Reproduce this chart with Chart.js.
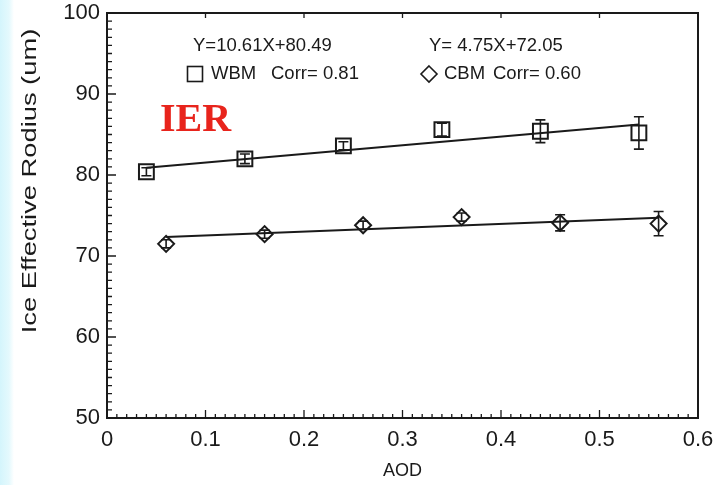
<!DOCTYPE html>
<html>
<head>
<meta charset="utf-8">
<script src="https://cdn.jsdelivr.net/npm/chart.js@4.4.0/dist/chart.umd.min.js"></script>
<style>
  html, body { margin: 0; padding: 0; }
  body {
    width: 717px; height: 485px; overflow: hidden;
    background: linear-gradient(to right, #d4f5fc 0px, #e4f9fd 9px, #ffffff 14px);
  }
  #wrap { position: relative; width: 717px; height: 485px; }
  canvas { display: block; }
</style>
</head>
<body>
<div id="wrap"><canvas id="c" width="717" height="485"></canvas></div>
<script>
// ---- data ----
const xTickLabels = ['0', '0.1', '0.2', '0.3', '0.4', '0.5', '0.6'];
const yTickLabels = ['50', '60', '70', '80', '90', '100'];

const wbmAOD = [0.04, 0.14, 0.24, 0.34, 0.44, 0.54];
const wbmIER = [80.4, 82.0, 83.6, 85.6, 85.4, 85.2];
const wbmErr = [0.5, 0.6, 0.5, 0.8, 1.4, 2.0];

const cbmAOD = [0.06, 0.16, 0.26, 0.36, 0.46, 0.56];
const cbmIER = [71.5, 72.7, 73.8, 74.8, 74.1, 74.0];
const cbmErr = [0.5, 0.5, 0.5, 0.5, 1.0, 1.5];

const wbmFitAOD = [0.04, 0.54];
const wbmFitIER = [80.91, 86.22];
const cbmFitAOD = [0.06, 0.56];
const cbmFitIER = [72.34, 74.71];

const legendTexts = {
  wbmEq: 'Y=10.61X+80.49', cbmEq: 'Y= 4.75X+72.05',
  wbmName: 'WBM', cbmName: 'CBM',
  wbmCorr: 'Corr= 0.81', cbmCorr: 'Corr= 0.60'
};
const panelLabel = 'IER';
const xTitle = 'AOD';
const yTitle = 'Ice Effective Rodius (um)';

const pts = (xs, ys) => xs.map((x, i) => ({ x: x, y: ys[i] }));

const FONT = '"Liberation Sans", Arial, sans-serif';
const INK = '#1a1a1a';

const decor = {
  id: 'decor',
  afterDatasetsDraw(chart) {
    const ctx = chart.ctx;
    const xs = chart.scales.x, ys = chart.scales.y;
    const a = chart.chartArea;
    ctx.save();
    ctx.strokeStyle = INK;
    ctx.lineCap = 'butt';
    // error bars
    const drawErr = (X, Y, E) => {
      ctx.lineWidth = 1.6;
      X.forEach((xv, i) => {
        const px = xs.getPixelForValue(xv);
        const p1 = ys.getPixelForValue(Y[i] + E[i]);
        const p2 = ys.getPixelForValue(Y[i] - E[i]);
        ctx.beginPath();
        ctx.moveTo(px, p1); ctx.lineTo(px, p2);
        ctx.moveTo(px - 5, p1); ctx.lineTo(px + 5, p1);
        ctx.moveTo(px - 5, p2); ctx.lineTo(px + 5, p2);
        ctx.stroke();
      });
    };
    drawErr(wbmAOD, wbmIER, wbmErr);
    drawErr(cbmAOD, cbmIER, cbmErr);

    // frame
    ctx.lineWidth = 2;
    ctx.strokeRect(a.left, a.top, a.right - a.left, a.bottom - a.top);

    // ticks
    ctx.lineWidth = 1.3;
    ctx.beginPath();
    for (let k = 0; k <= 60; k++) {
      const px = xs.getPixelForValue(k / 100);
      const major = k % 10 === 0;
      ctx.moveTo(px, a.bottom); ctx.lineTo(px, a.bottom - (major ? 8 : 4));
      if (major) { ctx.moveTo(px, a.top); ctx.lineTo(px, a.top + 5); }
    }
    for (let v = 50; v <= 100; v++) {
      const py = ys.getPixelForValue(v);
      const major = v % 10 === 0;
      ctx.moveTo(a.left, py); ctx.lineTo(a.left + (major ? 9 : 5), py);
    }
    ctx.stroke();

    // legend text
    ctx.fillStyle = INK;
    ctx.font = '18.5px ' + FONT;
    ctx.textBaseline = 'middle';
    ctx.textAlign = 'left';
    const r1 = 46, r2 = 74;
    ctx.fillText(legendTexts.wbmEq, 193, r1);
    ctx.fillText(legendTexts.cbmEq, 429, r1);
    ctx.fillText(legendTexts.wbmName, 211, r2);
    ctx.fillText(legendTexts.wbmCorr, 271, r2);
    ctx.fillText(legendTexts.cbmName, 444, r2);
    ctx.fillText(legendTexts.cbmCorr, 493, r2);
    ctx.lineWidth = 1.6;
    ctx.strokeRect(187.5, r2 - 7.5, 15, 15);
    ctx.beginPath();
    ctx.moveTo(429, r2 - 8); ctx.lineTo(437, r2); ctx.lineTo(429, r2 + 8); ctx.lineTo(421, r2);
    ctx.closePath(); ctx.stroke();

    // y axis title (taller lettering as in the reference)
    ctx.save();
    ctx.font = '21px ' + FONT;
    ctx.textAlign = 'center';
    ctx.textBaseline = 'middle';
    ctx.translate(30, 181);
    ctx.rotate(-Math.PI / 2);
    ctx.scale(1.3, 1);
    ctx.fillText(yTitle, 0, 0);
    ctx.restore();

    // x axis title
    ctx.font = '18px ' + FONT;
    ctx.textAlign = 'center';
    ctx.textBaseline = 'middle';
    ctx.fillText(xTitle, (a.left + a.right) / 2, 471);

    // panel label
    ctx.fillStyle = '#e8241c';
    ctx.textAlign = 'left';
    ctx.font = 'bold 40px "Liberation Serif", "Times New Roman", serif';
    ctx.textBaseline = 'alphabetic';
    ctx.fillText(panelLabel, 160, 131);
    ctx.restore();
  }
};

new Chart(document.getElementById('c'), {
  type: 'scatter',
  data: {
    datasets: [
      { label: 'WBM', data: pts(wbmAOD, wbmIER), pointStyle: 'rect', pointRadius: 10.5,
        borderColor: INK, backgroundColor: 'rgba(0,0,0,0)', pointBorderWidth: 2, showLine: false, order: 1 },
      { label: 'CBM', data: pts(cbmAOD, cbmIER), pointStyle: 'rectRot', pointRadius: 8,
        borderColor: INK, backgroundColor: 'rgba(0,0,0,0)', pointBorderWidth: 2, showLine: false, order: 1 },
      { label: 'WBM fit', data: pts(wbmFitAOD, wbmFitIER), showLine: true, pointRadius: 0,
        borderColor: INK, borderWidth: 2, order: 2 },
      { label: 'CBM fit', data: pts(cbmFitAOD, cbmFitIER), showLine: true, pointRadius: 0,
        borderColor: INK, borderWidth: 2, order: 2 }
    ]
  },
  options: {
    responsive: false,
    animation: false,
    events: [],
    layout: { padding: { left: 0, top: 13, right: 19, bottom: 0 } },
    plugins: { legend: { display: false }, tooltip: { enabled: false } },
    scales: {
      x: {
        type: 'linear', min: 0, max: 0.6,
        afterFit(s) { s.height = 67; s.paddingLeft = 0; s.paddingRight = 0; },
        afterBuildTicks(s) { s.ticks = xTickLabels.map(t => ({ value: parseFloat(t) })); },
        grid: { display: false, drawTicks: false },
        border: { display: false },
        ticks: { padding: 9, color: INK, font: { family: FONT, size: 22 },
                 maxRotation: 0, callback: (v, i) => xTickLabels[i] },
        title: { display: false }
      },
      y: {
        type: 'linear', min: 50, max: 100,
        afterFit(s) { s.width = 107; s.paddingTop = 0; s.paddingBottom = 0; },
        afterBuildTicks(s) { s.ticks = yTickLabels.map(t => ({ value: parseFloat(t) })); },
        grid: { display: false, drawTicks: false },
        border: { display: false },
        ticks: { padding: 7, color: INK, font: { family: FONT, size: 22 },
                 callback: (v, i) => yTickLabels[i] },
        title: { display: false }
      }
    }
  },
  plugins: [decor]
});
</script>
</body>
</html>
